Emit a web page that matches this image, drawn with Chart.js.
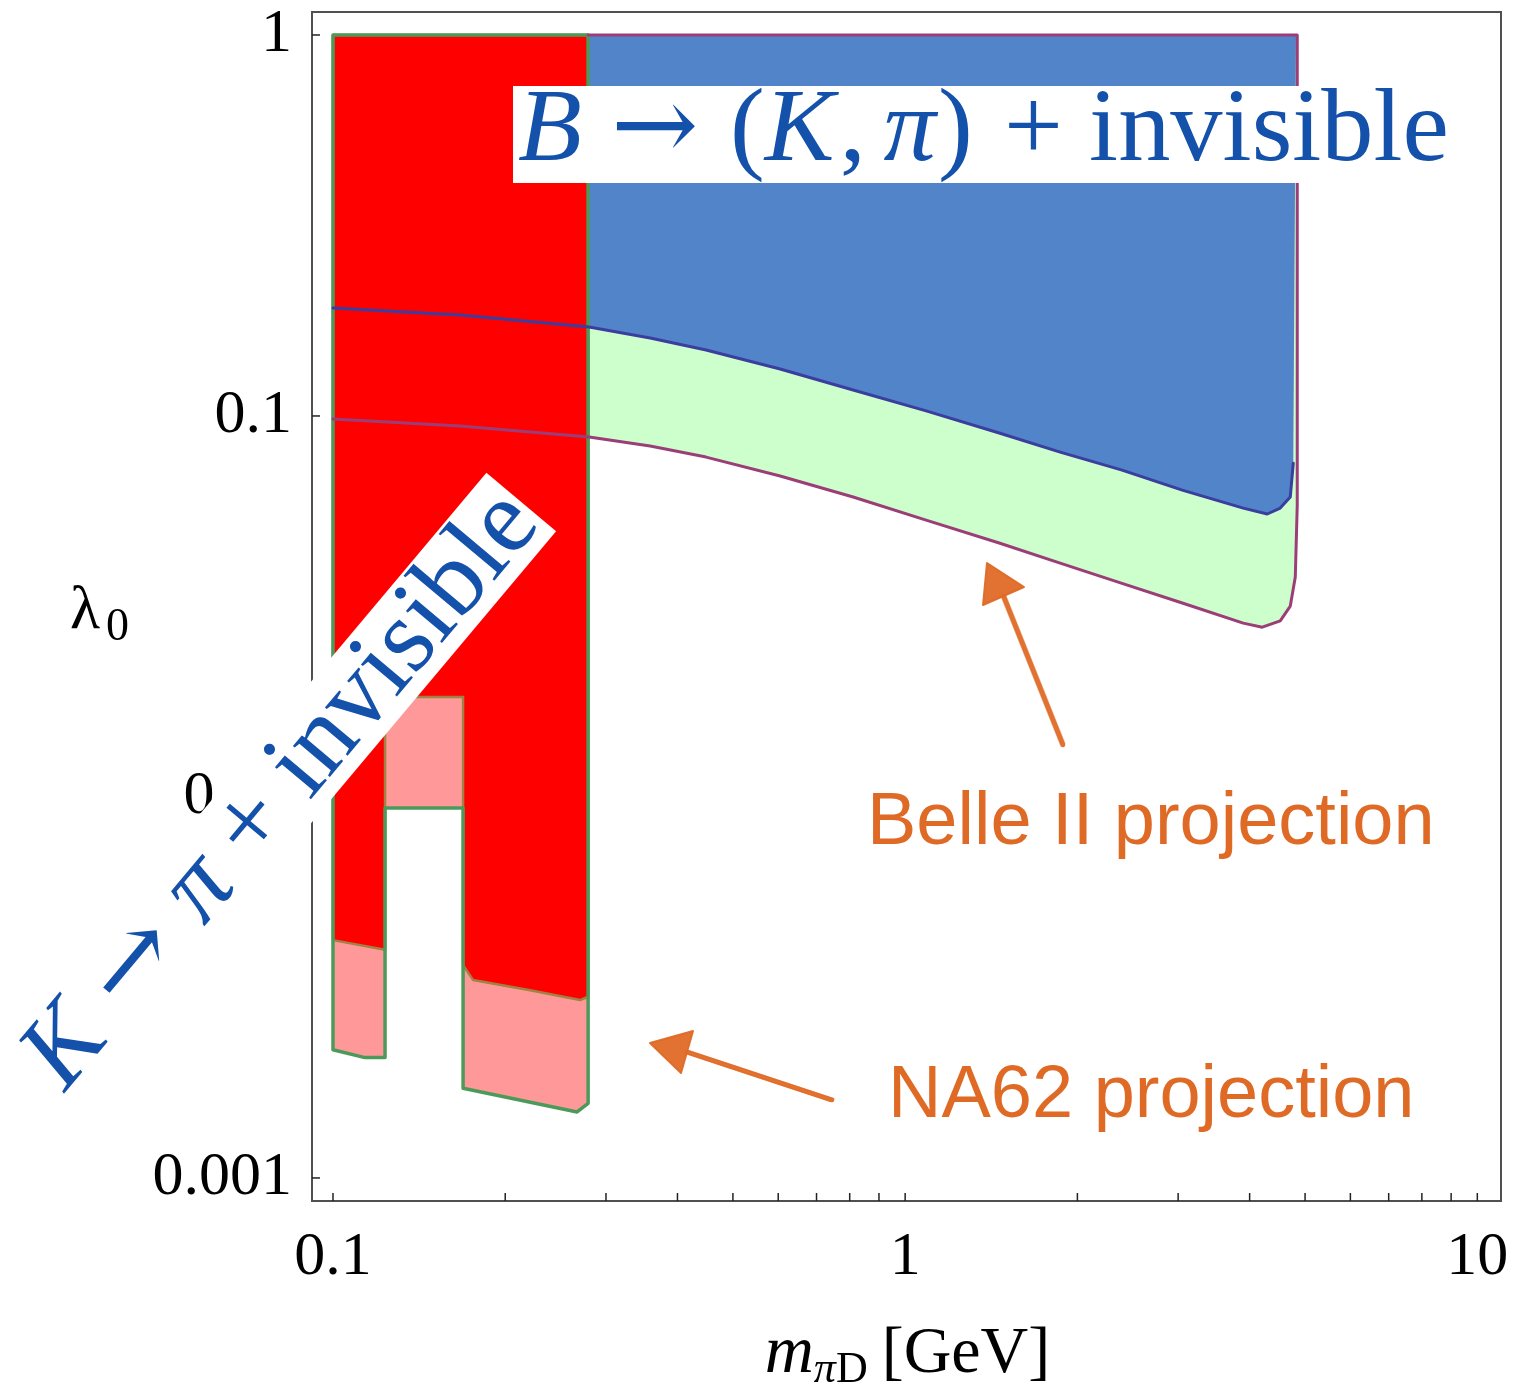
<!DOCTYPE html>
<html lang="en">
<head>
<meta charset="utf-8">
<title>Dark pion coupling limits</title>
<script src="https://cdn.jsdelivr.net/npm/chart.js@4.4.1/dist/chart.umd.min.js"></script>
<style>
    html, body { margin: 0; padding: 0; background: #ffffff; }
    #chartBox { position: relative; width: 1529px; height: 1384px; }
</style>
</head>
<body>
<div id="chartBox"><canvas id="limitChart"></canvas></div>
<script>
// current B -> (K, pi) + invisible bound, lower edge of the blue band
var bLimitMass   = [0.1, 0.1667, 0.2803, 0.3583, 0.4488, 0.6046, 0.8111, 1.088, 1.460, 1.866, 2.386, 3.050, 3.898, 4.295, 4.524, 4.711, 4.768];
var bLimitLambda = [0.1921, 0.1841, 0.1713, 0.1602, 0.1490, 0.1328, 0.1170, 0.1031, 0.0902, 0.0804, 0.0722, 0.0639, 0.0573, 0.0553, 0.0573, 0.0613, 0.0752];

// Belle II projection, lower edge and right side of the green band
var belleMass   = [0.1, 0.1667, 0.2803, 0.3583, 0.4488, 0.6046, 0.8111, 1.088, 1.460, 1.866, 2.386, 3.050, 3.898, 4.209, 4.524, 4.711, 4.807, 4.845, 4.845];
var belleLambda = [0.0982, 0.0941, 0.0881, 0.0834, 0.0780, 0.0696, 0.0613, 0.0533, 0.0464, 0.0411, 0.0364, 0.0323, 0.0286, 0.0279, 0.0290, 0.0317, 0.0378, 0.0584, 1];

// K -> pi + invisible, current bound (red region)
var kLimitMass   = [0.1, 0.2792, 0.2792, 0.2703, 0.2211, 0.1757, 0.1688, 0.1688, 0.1233, 0.1233, 0.1];
var kLimitLambda = [1, 1, 0.00299, 0.00293, 0.00311, 0.00331, 0.00362, 0.0183, 0.0183, 0.00397, 0.00421];

// NA62 projection, outer contour of the kaon region (pink)
var na62Mass   = [0.1, 0.2792, 0.2792, 0.2671, 0.1688, 0.1688, 0.1233, 0.1233, 0.1137, 0.1];
var na62Lambda = [1, 1, 0.00157, 0.00149, 0.00172, 0.00936, 0.00936, 0.00207, 0.00207, 0.00217];

var lambdaTop = 1;      // upper end of the scan
var bBandEdge = 4.82;   // right edge of the blue band

var xTickValues = [0.1, 1, 10];
var xTickLabels = ['0.1', '1', '10'];
var xMinorTicks = [0.1, 0.2, 0.3, 0.4, 0.5, 0.6, 0.7, 0.8, 0.9, 1, 2, 3, 4, 5, 6, 7, 8, 9, 10];
var yTickValues = [1, 0.1, 0.01, 0.001];
var yTickLabels = ['1', '0.1', '0.01', '0.001'];

var orange = '#df6a26';
var labelBlue = '#1451ab';

function toPoints(xs, ys) {
    return xs.map(function(x, i) { return {x: x, y: ys[i]}; });
}

function serif(size, italic, family) {
    return (italic ? 'italic ' : '') + size + 'px ' + (family || '"Liberation Serif", "Times New Roman", serif');
}

// parts: [text, italic, gap after in em, font family]
function runWidth(ctx, parts, size) {
    var w = 0;
    parts.forEach(function(p) {
        ctx.font = serif(size, p[1], p[3]);
        w += ctx.measureText(p[0]).width + (p[2] || 0) * size;
    });
    return w;
}

function drawRun(ctx, parts, size, x, y) {
    parts.forEach(function(p) {
        ctx.font = serif(size, p[1], p[3]);
        ctx.fillText(p[0], x, y);
        x += ctx.measureText(p[0]).width + (p[2] || 0) * size;
    });
}

function fitSize(ctx, parts, width) {
    return 100 * width / runWidth(ctx, parts, 100);
}

function sketchArrow(ctx, tail, tip, c1, c2) {
    ctx.save();
    ctx.fillStyle = orange;
    ctx.strokeStyle = orange;
    ctx.lineCap = 'round';
    var bx = (c1[0] + c2[0]) / 2, by = (c1[1] + c2[1]) / 2;
    [[0, 0, 4.5, 0.95], [1.8, -1.2, 1.5, 0.6], [-1.8, 1.2, 1.5, 0.6]].forEach(function(o) {
        ctx.globalAlpha = o[3];
        ctx.lineWidth = o[2];
        ctx.beginPath();
        ctx.moveTo(tail[0] + o[0], tail[1] + o[1]);
        ctx.lineTo(bx + o[0], by + o[1]);
        ctx.stroke();
    });
    ctx.globalAlpha = 0.95;
    ctx.lineJoin = 'round';
    ctx.lineWidth = 2;
    ctx.beginPath();
    ctx.moveTo(tip[0], tip[1]);
    ctx.lineTo(c1[0], c1[1]);
    ctx.lineTo(c2[0], c2[1]);
    ctx.closePath();
    ctx.fill();
    ctx.stroke();
    ctx.restore();
}

var arrowFont = '"DejaVu Serif", serif';
var bLabelParts = [['B', true, 0.28], ['\u2192', false, 0.3, arrowFont], ['(', false, 0], ['K', true, 0.05],
                   [',', false, 0.17], ['\u03c0', true, 0.02], [')', false, 0.3], ['+', false, 0.25], ['invisible', false, 0]];
var kLabelParts = [['K', true, 0.28], ['\u2192', false, 0.28, arrowFont], ['\u03c0', true, 0.25], ['+', false, 0.25], ['invisible', false, 0]];

// frame, inward ticks, axis titles and the text annotations
var decorPlugin = {
    id: 'decor',
    afterDraw: function(chart) {
        var ctx = chart.ctx, area = chart.chartArea;
        var xs = chart.scales.x, ys = chart.scales.y;
        ctx.save();

        ctx.strokeStyle = '#505050';
        ctx.lineWidth = 2;
        ctx.strokeRect(area.left, area.top, area.right - area.left, area.bottom - area.top);

        ctx.strokeStyle = '#222';
        ctx.lineWidth = 1.5;
        xMinorTicks.forEach(function(v) {
            var px = xs.getPixelForValue(v);
            ctx.beginPath(); ctx.moveTo(px, area.bottom); ctx.lineTo(px, area.bottom - 8); ctx.stroke();
        });
        yTickValues.forEach(function(v) {
            var py = ys.getPixelForValue(v);
            ctx.beginPath(); ctx.moveTo(area.left, py); ctx.lineTo(area.left + 8, py); ctx.stroke();
        });

        // axis titles
        ctx.fillStyle = '#000';
        ctx.textBaseline = 'alphabetic';
        ctx.textAlign = 'left';
        ctx.font = serif(62, false);
        ctx.fillText('\u03bb', 70, 628);
        ctx.font = serif(46, false);
        ctx.fillText('0', 106, 640);

        ctx.font = serif(68, true);
        var mW = ctx.measureText('m').width;
        ctx.font = serif(44, true);
        var piW = ctx.measureText('\u03c0').width;
        ctx.font = serif(44, false);
        var dW = ctx.measureText('D').width;
        ctx.font = serif(66, false);
        var gevW = ctx.measureText('[GeV]').width;
        var gap = 14;
        var x0 = (area.left + area.right) / 2 + 1 - (mW + piW + dW + gap + gevW) / 2;
        ctx.font = serif(68, true);
        ctx.fillText('m', x0, 1372);
        ctx.font = serif(44, true);
        ctx.fillText('\u03c0', x0 + mW, 1382);
        ctx.font = serif(44, false);
        ctx.fillText('D', x0 + mW + piW, 1382);
        ctx.font = serif(66, false);
        ctx.fillText('[GeV]', x0 + mW + piW + dW + gap, 1372);

        // B -> (K, pi) + invisible
        ctx.fillStyle = '#ffffff';
        ctx.fillRect(513, 86, 939, 97);
        ctx.fillStyle = labelBlue;
        drawRun(ctx, bLabelParts, fitSize(ctx, bLabelParts, 931), 518, 160);

        // K -> pi + invisible, along the diagonal
        ctx.save();
        ctx.translate(277, 793);
        ctx.rotate(-50 * Math.PI / 180);
        ctx.fillStyle = '#ffffff';
        ctx.fillRect(-380, -45.5, 760, 91);
        ctx.fillStyle = labelBlue;
        drawRun(ctx, kLabelParts, fitSize(ctx, kLabelParts, 742), -366, 30);
        ctx.restore();

        // projection labels and arrows
        ctx.fillStyle = orange;
        ctx.font = '74px "Liberation Sans", Arial, sans-serif';
        ctx.fillText('Belle II projection', 867, 844);
        ctx.fillText('NA62 projection', 888, 1117);
        sketchArrow(ctx, [1063, 745], [987, 563], [983, 605], [1024, 587]);
        sketchArrow(ctx, [832, 1100], [650, 1043], [693, 1031], [681, 1073]);

        ctx.restore();
    }
};

// tick labels may hang past the plot edges without moving the frame
function noLabelPadding(scale) {
    scale.paddingTop = 0;
    scale.paddingBottom = 0;
    scale.paddingLeft = 0;
    scale.paddingRight = 0;
}

var bLimitPts = toPoints(bLimitMass, bLimitLambda);
var bellePts = toPoints(belleMass, belleLambda);
var kLimitPts = toPoints(kLimitMass, kLimitLambda);
var na62Pts = toPoints(na62Mass, na62Lambda);

var ctx = document.getElementById('limitChart').getContext('2d');
var chart = new Chart(ctx, {
    type: 'line',
    data: {
        datasets: [
            {
                label: 'Belle II projection',
                data: bellePts.concat([{x: belleMass[0], y: lambdaTop}]),
                fill: 'shape', backgroundColor: '#ccffcc', borderWidth: 0, order: 7
            },
            {
                label: 'B limit',
                data: bLimitPts.concat([{x: bBandEdge, y: lambdaTop}, {x: bLimitMass[0], y: lambdaTop}]),
                fill: 'shape', backgroundColor: '#5284ca', borderWidth: 0, order: 6
            },
            {
                label: 'NA62 projection',
                data: na62Pts,
                fill: 'shape', backgroundColor: '#ff9999', borderWidth: 0, order: 5
            },
            {
                label: 'K limit',
                data: kLimitPts.concat([kLimitPts[0]]),
                fill: 'shape', backgroundColor: '#ff0000', borderColor: '#a08244', borderWidth: 2.5, order: 4
            },
            {
                label: 'K outline',
                data: na62Pts.concat([na62Pts[0]]),
                fill: false, borderColor: '#4c9a5a', borderWidth: 3.5, order: 3
            },
            {
                label: 'Belle II edge',
                data: bellePts.concat([{x: kLimitMass[1], y: lambdaTop}]),
                fill: false, borderColor: '#9b3e77', borderWidth: 3, order: 2
            },
            {
                label: 'B limit edge',
                data: bLimitPts,
                fill: false, borderColor: '#3b3d9f', borderWidth: 3, order: 1
            }
        ]
    },
    options: {
        responsive: true,
        maintainAspectRatio: false,
        animation: false,
        events: [],
        layout: { padding: { top: 12, right: 28, left: 0, bottom: 0 } },
        elements: {
            point: { radius: 0, hoverRadius: 0 },
            line: { tension: 0, borderJoinStyle: 'round', borderCapStyle: 'round' }
        },
        plugins: {
            legend: { display: false },
            tooltip: { enabled: false }
        },
        scales: {
            x: {
                type: 'logarithmic',
                min: 0.0919,
                max: 11.0,
                grid: { display: false, drawTicks: false },
                border: { display: false },
                afterBuildTicks: function(scale) {
                    scale.ticks = xTickValues.map(function(v) { return {value: v}; });
                },
                afterFit: function(scale) {
                    scale.height = 183;
                    noLabelPadding(scale);
                },
                ticks: {
                    autoSkip: false,
                    maxRotation: 0,
                    padding: 20,
                    color: '#000',
                    font: { family: '"Liberation Serif", serif', size: 62 },
                    callback: function(value) {
                        var i = xTickValues.indexOf(value);
                        return i < 0 ? '' : xTickLabels[i];
                    }
                }
            },
            y: {
                type: 'logarithmic',
                min: 0.000870,
                max: 1.149,
                grid: { display: false, drawTicks: false },
                border: { display: false },
                afterBuildTicks: function(scale) {
                    scale.ticks = yTickValues.map(function(v) { return {value: v}; });
                },
                afterFit: function(scale) {
                    scale.width = 312;
                    noLabelPadding(scale);
                },
                ticks: {
                    autoSkip: false,
                    padding: 20,
                    color: '#000',
                    font: { family: '"Liberation Serif", serif', size: 62 },
                    callback: function(value) {
                        var i = yTickValues.indexOf(value);
                        return i < 0 ? '' : yTickLabels[i];
                    }
                }
            }
        }
    },
    plugins: [decorPlugin]
});
</script>
</body>
</html>
